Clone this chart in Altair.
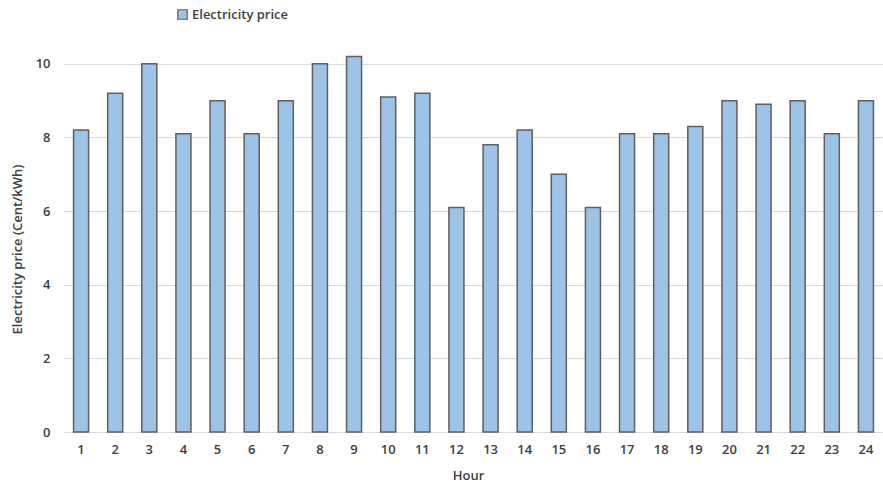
import altair as alt
import pandas as pd

# Hourly electricity price (Cent/kWh)
hours = list(range(1, 25))
prices = [8.2, 9.2, 10.0, 8.1, 9.0, 8.1, 9.0, 10.0, 10.2, 9.1, 9.2, 6.1,
          7.8, 8.2, 7.0, 6.1, 8.1, 8.1, 8.3, 9.0, 8.9, 9.0, 8.1, 9.0]
series = ["Electricity price"] * len(hours)
y_ticks = [0, 2, 4, 6, 8, 10]

df = pd.DataFrame({"Hour": hours, "Price": prices, "Series": series})

FONT = "Open Sans"
TEXT = "#404040"

chart = (
    alt.Chart(df)
    .mark_bar(stroke="#5f5f5f", strokeWidth=1.5, fill="#9dc3e6")
    .encode(
        x=alt.X(
            "Hour:O",
            title="Hour",
            scale=alt.Scale(paddingInner=0.56, paddingOuter=0.28),
            axis=alt.Axis(
                labelAngle=0,
                ticks=False,
                domain=True,
                domainColor="#d9d9d9",
                domainWidth=1,
                labelPadding=11,
                labelFont=FONT,
                labelFontSize=13,
                labelFontWeight=600,
                labelColor=TEXT,
                titleFont=FONT,
                titleFontSize=13,
                titleFontWeight=600,
                titleColor=TEXT,
                titleX=404,
                titleY=43,
                titleBaseline="middle",
                grid=False,
            ),
        ),
        y=alt.Y(
            "Price:Q",
            title="Electricity price (Cent/kWh)",
            scale=alt.Scale(domain=[0, 11], nice=False),
            axis=alt.Axis(
                values=y_ticks,
                ticks=False,
                domain=False,
                grid=True,
                gridColor="#d9d9d9",
                gridWidth=1,
                labelPadding=14,
                labelFont=FONT,
                labelFontSize=13,
                labelFontWeight=600,
                labelColor=TEXT,
                titleFont=FONT,
                titleFontSize=13,
                titleFontWeight=600,
                titleColor=TEXT,
                titleAngle=270,
                titleAlign="center",
                titleBaseline="middle",
                titleX=-47,
                titleY=222,
            ),
        ),
        color=alt.Color(
            "Series:N",
            title=None,
            scale=alt.Scale(range=["#9dc3e6"]),
            legend=alt.Legend(
                orient="none",
                legendX=112,
                legendY=-19,
                symbolType="square",
                symbolSize=90,
                symbolStrokeColor="#5f5f5f",
                symbolStrokeWidth=1.2,
                labelFont=FONT,
                labelFontSize=13,
                labelFontWeight=600,
                labelColor=TEXT,
                labelOffset=3,
            ),
        ),
    )
    .properties(
        width=819,
        height=405,
        background="white",
        autosize=alt.AutoSizeParams(type="none"),
        padding={"left": 64, "top": 27, "right": 0, "bottom": 51},
    )
    .configure_view(strokeWidth=0, stroke="transparent")
)

chart.save("out.html", embed_options={"renderer": "svg", "actions": False})
